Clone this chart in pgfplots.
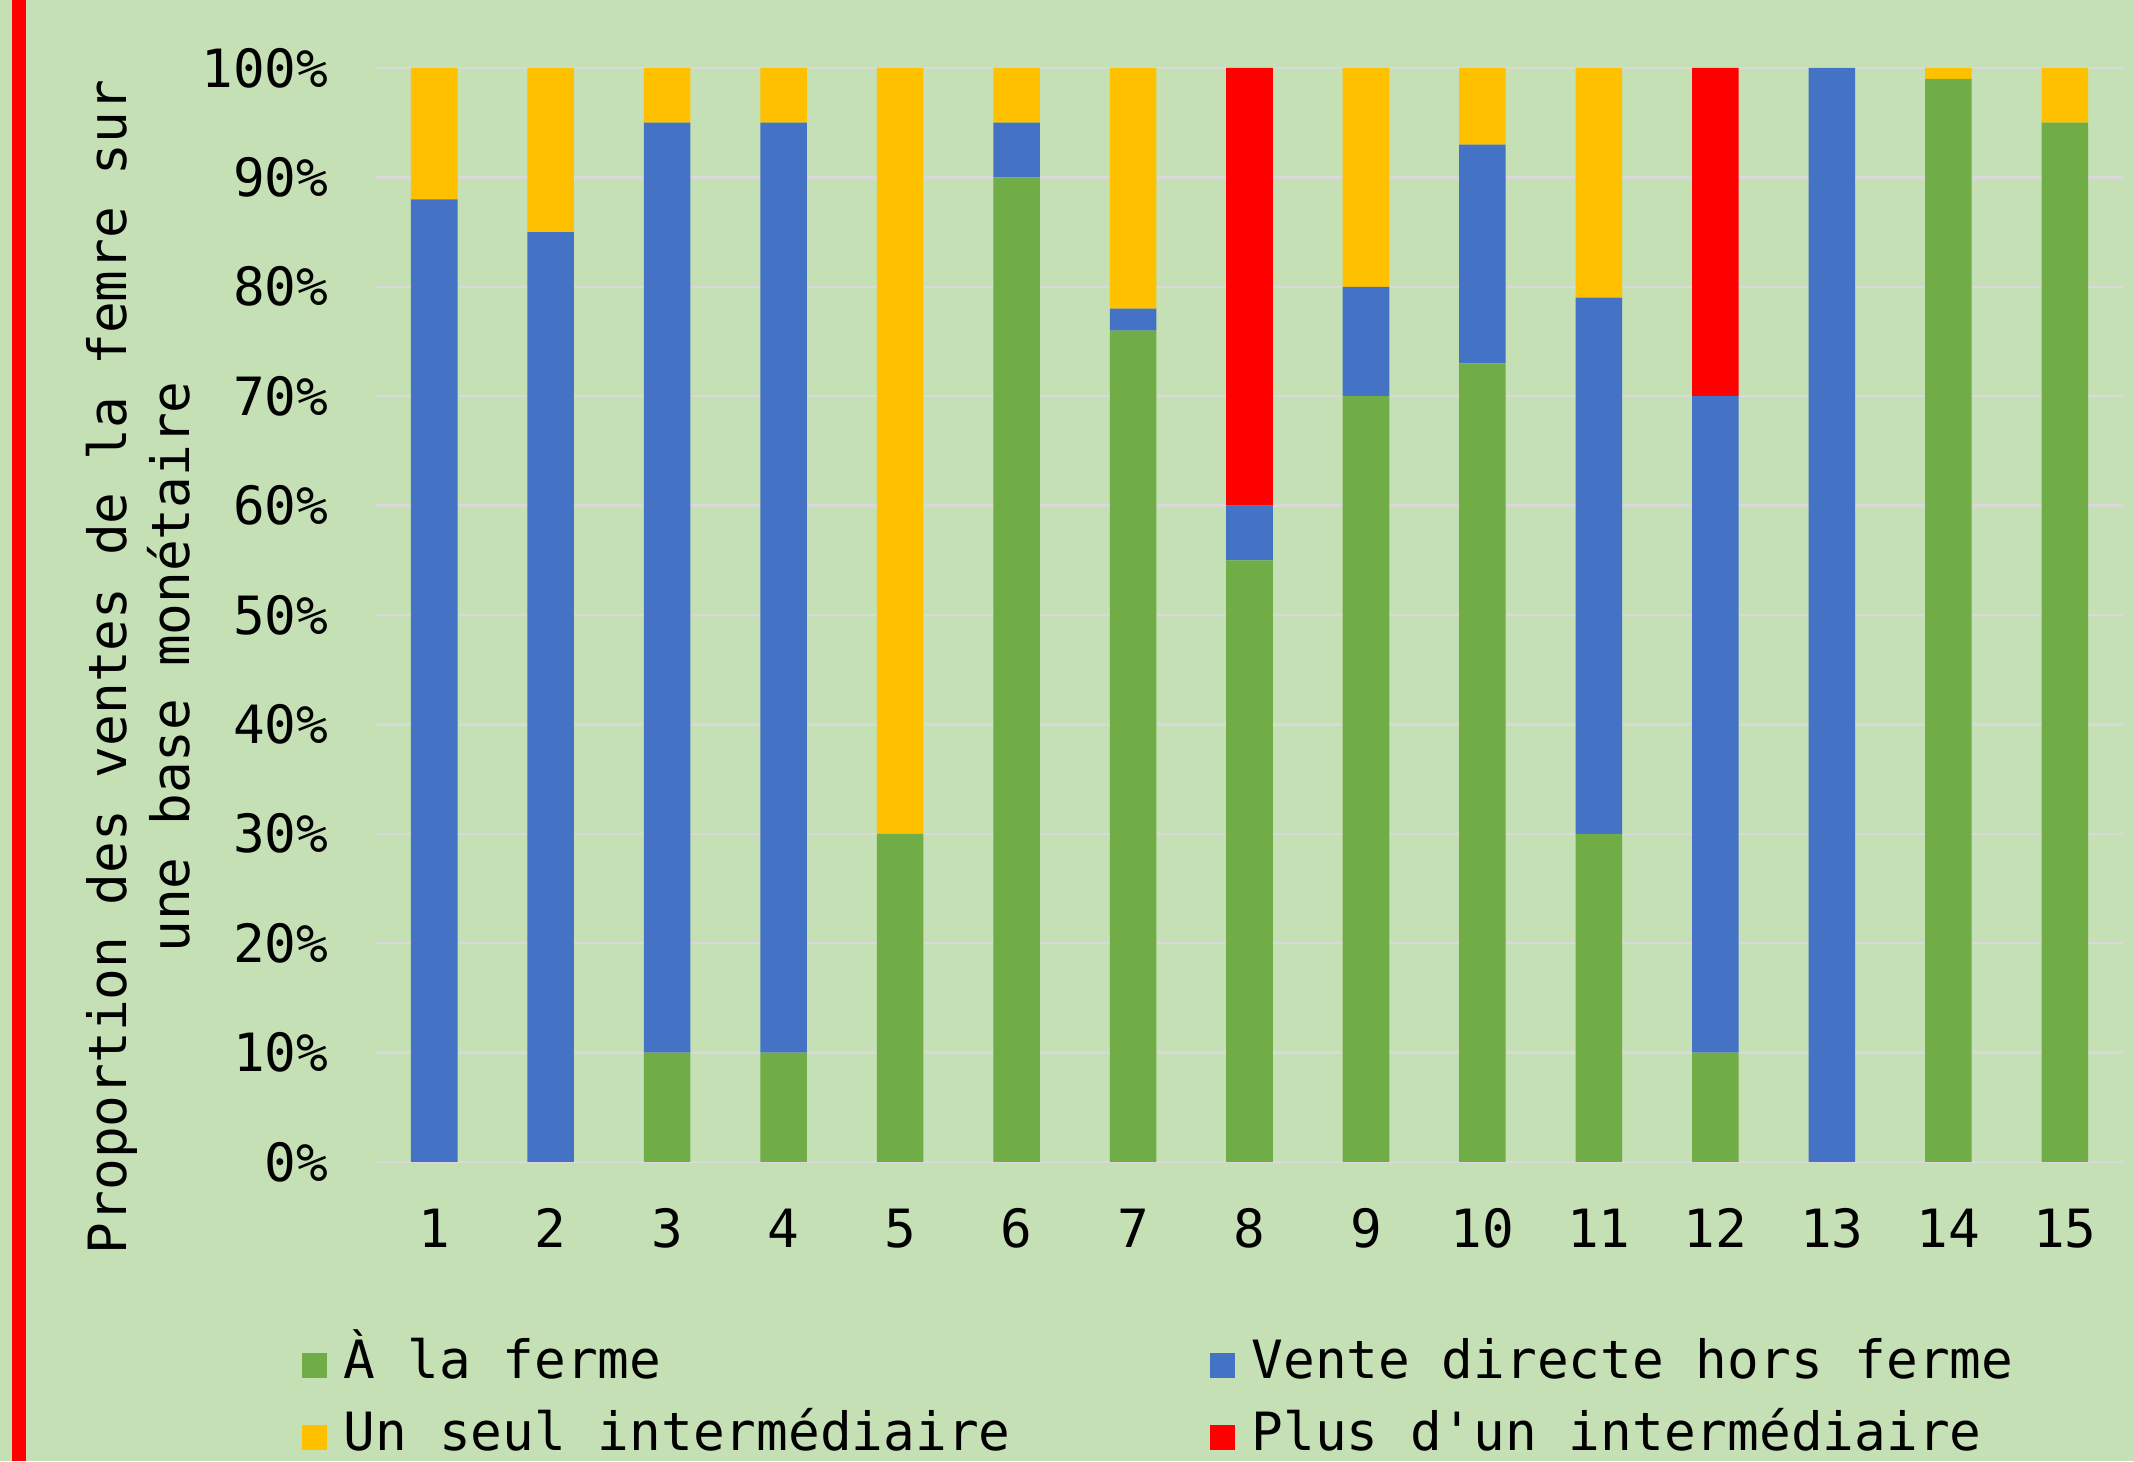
\documentclass[border=0pt]{standalone}
\usepackage{fontspec}
\setmainfont{DejaVu Sans Mono}
\usepackage{pgfplots}
\pgfplotsset{compat=1.18}
\definecolor{bg}{HTML}{C5E0B4}
\definecolor{cgreen}{HTML}{70AD47}
\definecolor{cblue}{HTML}{4472C4}
\definecolor{cyellow}{HTML}{FFC000}
\definecolor{cred}{HTML}{FF0000}
\definecolor{gridc}{HTML}{D9D9D9}
\newcommand{\ff}{\fontsize{15pt}{18pt}\selectfont}

\pgfplotstableread{
x  ferme vente un plus
1  0   88  12  0
2  0   85  15  0
3  10  85  5   0
4  10  85  5   0
5  30  0   70  0
6  90  5   5   0
7  76  2   22  0
8  55  5   0   40
9  70  10  20  0
10 73  20  7   0
11 30  49  21  0
12 10  60  0   30
13 0   100 0   0
14 99  0   1   0
15 95  0   5   0
}\datatable

\begin{document}
\begin{tikzpicture}
\path[use as bounding box] (0,0) rectangle (213.4mm,146.1mm);
\fill[bg] (0,0) rectangle (213.4mm,146.1mm);
\fill[cred] (1.2mm,0) rectangle (2.6mm,146.1mm);
\begin{axis}[
  at={(37.6mm,29.9mm)}, anchor=south west,
  width=174.7mm, height=109.4mm, scale only axis,
  ybar stacked, bar width=0.4,
  xmin=0.5, xmax=15.5, ymin=0, ymax=100,
  xtick={1,2,3,4,5,6,7,8,9,10,11,12,13,14,15},
  xticklabels={1,2,3,4,5,6,7,8,9,10,11,12,13,14,15},
  ytick={0,10,20,30,40,50,60,70,80,90,100},
  yticklabels={0\%,10\%,20\%,30\%,40\%,50\%,60\%,70\%,80\%,90\%,100\%},
  major tick length=0pt,
  axis line style={draw=none},
  ymajorgrids, grid style={gridc, line width=0.25mm},
  tick label style={font=\ff},
  xticklabel style={anchor=north, inner sep=0pt, yshift=-4.6mm},
  yticklabel style={anchor=east, inner sep=0pt, xshift=-4.7mm},
  ylabel={Proportion des ventes de la femre sur\\une base monétaire},
  ylabel style={at={(axis description cs:-0.136,0.4525)}, anchor=center, align=center, font=\ff},
  legend columns=2,
  legend cell align=left,
  legend style={draw=none, fill=none, inner sep=0pt, outer sep=0pt,
    at={(axis description cs:-0.04236,-0.1645)}, anchor=north west,
    font=\ff, row sep=2.4mm,
    nodes={inner sep=0pt, text height=3.7mm, text depth=1.1mm},
    /tikz/every odd column/.append style={column sep=1.7mm},
    /tikz/every even column/.append style={column sep=19.9mm}},
  legend image code/.code={\fill[#1] (0mm,-1.25mm) rectangle (2.5mm,1.25mm);},
]
\addplot[fill=cgreen, draw=none] table[x=x, y=ferme] {\datatable};
\addlegendentry{À la ferme}
\addplot[fill=cblue, draw=none] table[x=x, y=vente] {\datatable};
\addlegendentry{Vente directe hors ferme}
\addplot[fill=cyellow, draw=none] table[x=x, y=un] {\datatable};
\addlegendentry{Un seul intermédiaire}
\addplot[fill=cred, draw=none] table[x=x, y=plus] {\datatable};
\addlegendentry{Plus d\textquotesingle un intermédiaire}
\end{axis}
\end{tikzpicture}
\end{document}
